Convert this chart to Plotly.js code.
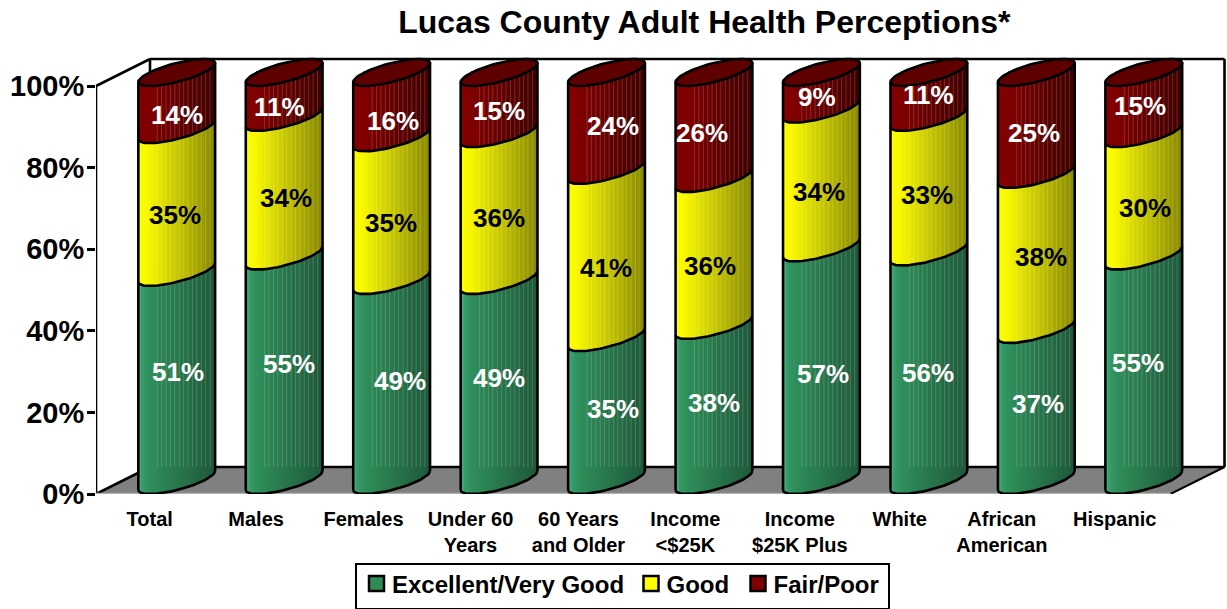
<!DOCTYPE html>
<html><head><meta charset="utf-8">
<script src="https://cdn.plot.ly/plotly-3.0.1.min.js"></script>
<style>html,body{margin:0;padding:0;background:#fff}</style></head>
<body><div id="chart" style="width:1227px;height:609px"></div>
<script>
// ---- data ----
const categories = ['Total','Males','Females','Under 60<br>Years','60 Years<br>and Older','Income<br>&lt;$25K','Income<br>$25K Plus','White','African<br>American','Hispanic'];
const excellent = [51,55,49,49,35,38,57,56,37,55];
const good      = [35,34,35,36,41,36,34,33,38,30];
const fairPoor  = [14,11,16,15,24,26, 9,11,25,15];
const yTicks = [0,20,40,60,80,100];

// ---- hand placed label nudges in the original (pixels, dx right / dy down) ----
const nudgeX = [[1.5,5,8,0,6,0,2,-1,2,-6],[-1.5,2,-1,0,-1,-3.5,-2,-2,5,1],[.5,-5,1,0,6,-12,-4,0,-2,-4]];
const nudgeY = [[-18,-18,-13,-16,-14,-13.5,-4,-7,-14.5,-19],[0,-2,0,-3,0,0,0,-3,-9,0],[0,-1,2,-6,-9,-6,-7,-13,-4,-11]];
const tickNudge = [0,-.01,-.01,-.015,-.01,-.015,.05,-.02,-.07,-.02];

// ---- geometry (pixels) ----
const W=1227,H=609, L=96, B=494, pxX=107.45, pxY=4.08, T=50;
const depthX=54, depthY=27;
const dX=p=>p/pxX, dY=p=>p/pxY;
const xMin=-0.5, xMax=xMin+(W-L)/pxX, yMax=(B-T)/pxY;
const A=27.3, Bb=27, C=13.5, R=Math.hypot(A,Bb), phi=Math.atan2(Bb,A);
const cxOf=i=>i+dX(depthX/2);
const lift=dY(depthY/2);
// ellipse offset in data coordinates relative to a (category, value) centre
function ellT(i,v,t){return [cxOf(i)+dX(A*Math.cos(t)+Bb*Math.sin(t)), v+lift+dY(C*Math.sin(t))];}
function frontY(x,v){ // x offset in px from the centre, front arc
  const S=A*A+Bb*Bb, disc=Math.max(0,Bb*Bb*x*x-S*(x*x-A*A));
  const s=(Bb*x-Math.sqrt(disc))/S;
  return v+lift+dY(C*s);
}

const series=[
 {name:'Excellent/Very Good',vals:excellent,col:'#2E8B57',stops:[[0,[72,176,128]],[.07,[50,150,100]],[.2,[46,139,87]],[1,[30,88,58]]],txt:'#fff'},
 {name:'Good',vals:good,col:'#FFFF00',stops:[[0,[255,255,0]],[.15,[245,245,0]],[1,[136,136,0]]],txt:'#000'},
 {name:'Fair/Poor',vals:fairPoor,col:'#800000',stops:[[0,[135,0,0]],[.2,[125,0,0]],[1,[62,0,0]]],txt:'#fff'}
];
function shade(stops,f){
  for(let k=1;k<stops.length;k++){ if(f<=stops[k][0]){
    const a=stops[k-1],b=stops[k],u=(f-a[0])/(b[0]-a[0]);
    return 'rgb('+a[1].map((c,j)=>Math.round(c+(b[1][j]-c)*u)).join(',')+')';
  }}
  return 'rgb('+stops[stops.length-1][1].join(',')+')';
}
const bases=series.map((s,k)=>s.vals.map((_,i)=>{let c=0;for(let j=0;j<k;j++)c+=series[j].vals[i];return c;}));

const traces=[];
// real bars (data + legend); the cylinder skin is laid over them
series.forEach((s,k)=>traces.push({type:'bar',name:s.name,x:categories.map((_,i)=>cxOf(i)),y:s.vals,
  base:bases[k].map(b=>b+lift),width:dX(2*A*0.98),marker:{color:s.col,line:{color:'#000',width:2.5}},hoverinfo:'name+y'}));

// cylinder skin: vertical colour bands following the front arcs
const nBands=26;
series.forEach((s,k)=>{
  for(let b=0;b<nBands;b++){
    const x1=-R+2*R*b/nBands, x2=-R+2*R*(b+1)/nBands+(b<nBands-1?0.8:0);
    const xs=[],ys=[];
    s.vals.forEach((v,i)=>{
      const lo=bases[k][i], hi=lo+v, n=4, px=[];
      for(let q=0;q<=n;q++)px.push(x1+(Math.min(x2,R)-x1)*q/n);
      px.forEach(p=>{xs.push(cxOf(i)+dX(p));ys.push(frontY(p,lo));});
      px.slice().reverse().forEach(p=>{xs.push(cxOf(i)+dX(p));ys.push(frontY(p,hi));});
      xs.push(null);ys.push(null);
    });
    traces.push({type:'scatter',mode:'lines',x:xs,y:ys,fill:'toself',fillcolor:shade(s.stops,(b+.5)/nBands),
      line:{width:0},hoverinfo:'skip',showlegend:false,cliponaxis:false});
  }
});
// pale stripes of the original gradient
(function(){
  const xs=[],ys=[];
  categories.forEach((_,i)=>{
    for(let p=-20;p<36;p+=4.4){
      xs.push(cxOf(i)+dX(p),cxOf(i)+dX(p+1),cxOf(i)+dX(p+1),cxOf(i)+dX(p),null);
      ys.push(dY(depthY),dY(depthY),frontY(p+1,100),frontY(p,100),null);
    }
  });
  traces.push({type:'scatter',mode:'lines',x:xs,y:ys,fill:'toself',fillcolor:'rgba(255,255,255,0.17)',line:{width:0},hoverinfo:'skip',showlegend:false,cliponaxis:false});
})();
// top caps
(function(){
  const xs=[],ys=[];
  categories.forEach((_,i)=>{
    for(let q=0;q<=60;q++){const p=ellT(i,100,q/60*2*Math.PI);xs.push(p[0]);ys.push(p[1]);}
    xs.push(null);ys.push(null);
  });
  traces.push({type:'scatter',mode:'lines',x:xs,y:ys,fill:'toself',fillcolor:'#5E0000',line:{color:'#000',width:2.6},hoverinfo:'skip',showlegend:false,cliponaxis:false});
})();
// outlines: silhouette edges and front arcs
(function(){
  const xs=[],ys=[];
  categories.forEach((_,i)=>{
    [-1,1].forEach(sgn=>{
      const t=sgn>0?phi:phi-Math.PI;
      const a=ellT(i,0,t), b=ellT(i,100,t);
      xs.push(a[0],b[0],null);ys.push(a[1],b[1],null);
    });
    const levels=[0,excellent[i],excellent[i]+good[i]];
    levels.forEach(v=>{
      for(let q=0;q<=36;q++){const p=ellT(i,v,phi-Math.PI+q/36*Math.PI);xs.push(p[0]);ys.push(p[1]);}
      xs.push(null);ys.push(null);
    });
  });
  traces.push({type:'scatter',mode:'lines',x:xs,y:ys,line:{color:'#000',width:2.6},hoverinfo:'skip',showlegend:false,cliponaxis:false});
})();

// value labels
const annotations=[];
series.forEach((s,k)=>s.vals.forEach((v,i)=>annotations.push({
  x:cxOf(i),y:bases[k][i]+v/2,xref:'x',yref:'y',text:v+'%',showarrow:false,xanchor:'center',yanchor:'middle',
  xshift:nudgeX[k][i],yshift:-nudgeY[k][i],font:{family:'Liberation Sans, Arial, sans-serif',size:26,weight:700,color:s.txt}})));

// walls and floor
const dxB=dX(depthX), dyB=dY(depthY), xE=xMin+10;
const ln=(x0,y0,x1,y1,color,width)=>({type:'line',xref:'x',yref:'y',x0,y0,x1,y1,line:{color:color||'#000',width:width||2.6},layer:'below'});
const shapes=[
 {type:'path',xref:'x',yref:'y',layer:'below',path:`M${xMin},0 L${xE},0 L${xE+dxB},${dyB} L${xMin+dxB},${dyB} Z`,fillcolor:'#808080',line:{width:0}},
 ln(xMin,0,xMin,100), ln(xMin,100,xMin+dxB,100+dyB), ln(xMin+dxB,dyB,xMin+dxB,100+dyB),
 ln(xMin+dxB,100+dyB,xE+dxB,100+dyB), ln(xE+dxB,dyB,xE+dxB,100+dyB),
 ln(xMin,0,xMin+dxB,dyB), ln(xMin+dxB,dyB,xE+dxB,dyB), ln(xE,0,xE+dxB,dyB,'#000',2), ln(xMin,0,xE,0,'#b0b0b0',2.4)
];

const font=(size)=>({family:'Liberation Sans, Arial, sans-serif',size,weight:700,color:'#000'});
const layout={
 width:W,height:H,margin:{l:L,r:0,t:T,b:H-B,pad:0},paper_bgcolor:'#fff',plot_bgcolor:'rgba(0,0,0,0)',
 barmode:'overlay',showlegend:true,
 title:{text:'Lucas County Adult Health Perceptions*',font:font(32),x:660/W,xanchor:'center',xref:'paper',y:1-22/H,yanchor:'middle'},
 xaxis:{range:[xMin,xMax],tickmode:'array',tickvals:categories.map((_,i)=>i+tickNudge[i]),ticktext:categories,tickfont:font(20),tickangle:0,
   ticks:'outside',ticklen:7,tickcolor:'rgba(0,0,0,0)',showgrid:false,zeroline:false,showline:false,fixedrange:true,automargin:false},
 yaxis:{range:[0,yMax],tickmode:'array',tickvals:yTicks,ticktext:yTicks.map(v=>v+'%'),tickfont:font(29),ticklabelstandoff:-3,
   ticks:'outside',ticklen:8,tickwidth:2.6,tickcolor:'#000',showgrid:false,zeroline:false,showline:false,fixedrange:true,automargin:false},
 legend:{orientation:'h',xref:'container',yref:'container',x:355/W,y:1-563/H,xanchor:'left',yanchor:'top',font:font(24),bgcolor:'#fff',bordercolor:'#000',borderwidth:2.4,
   traceorder:'normal',itemclick:false,itemdoubleclick:false},
 annotations,shapes
};
Plotly.newPlot('chart',traces,layout,{displayModeBar:false,responsive:false}).then(gd=>{
  // fine-tune the native legend: larger swatches, tighter text, original item spacing
  const itemX=[1.5,276,383];
  const lg=gd.querySelector('.legend');
  lg.querySelectorAll('.traces').forEach((g,i)=>{
    const m=/translate\(([^,]+),\s*([^)]+)\)/.exec(g.getAttribute('transform')||'');
    if(m)g.setAttribute('transform',`translate(${itemX[i]},${parseFloat(m[2])-4})`);
    g.querySelectorAll('.legendpoints path').forEach(p=>{p.setAttribute('d','M7.5,7.5H-7.5V-7.5H7.5Z');p.style.strokeWidth='2.5px';});
    const t=g.querySelector('.legendtext');
    if(t){t.setAttribute('x','35.5');}
  });
  const bg=lg.querySelector('rect.bg');
  if(bg){bg.setAttribute('width','533');bg.setAttribute('height','45');}
});
</script></body></html>
